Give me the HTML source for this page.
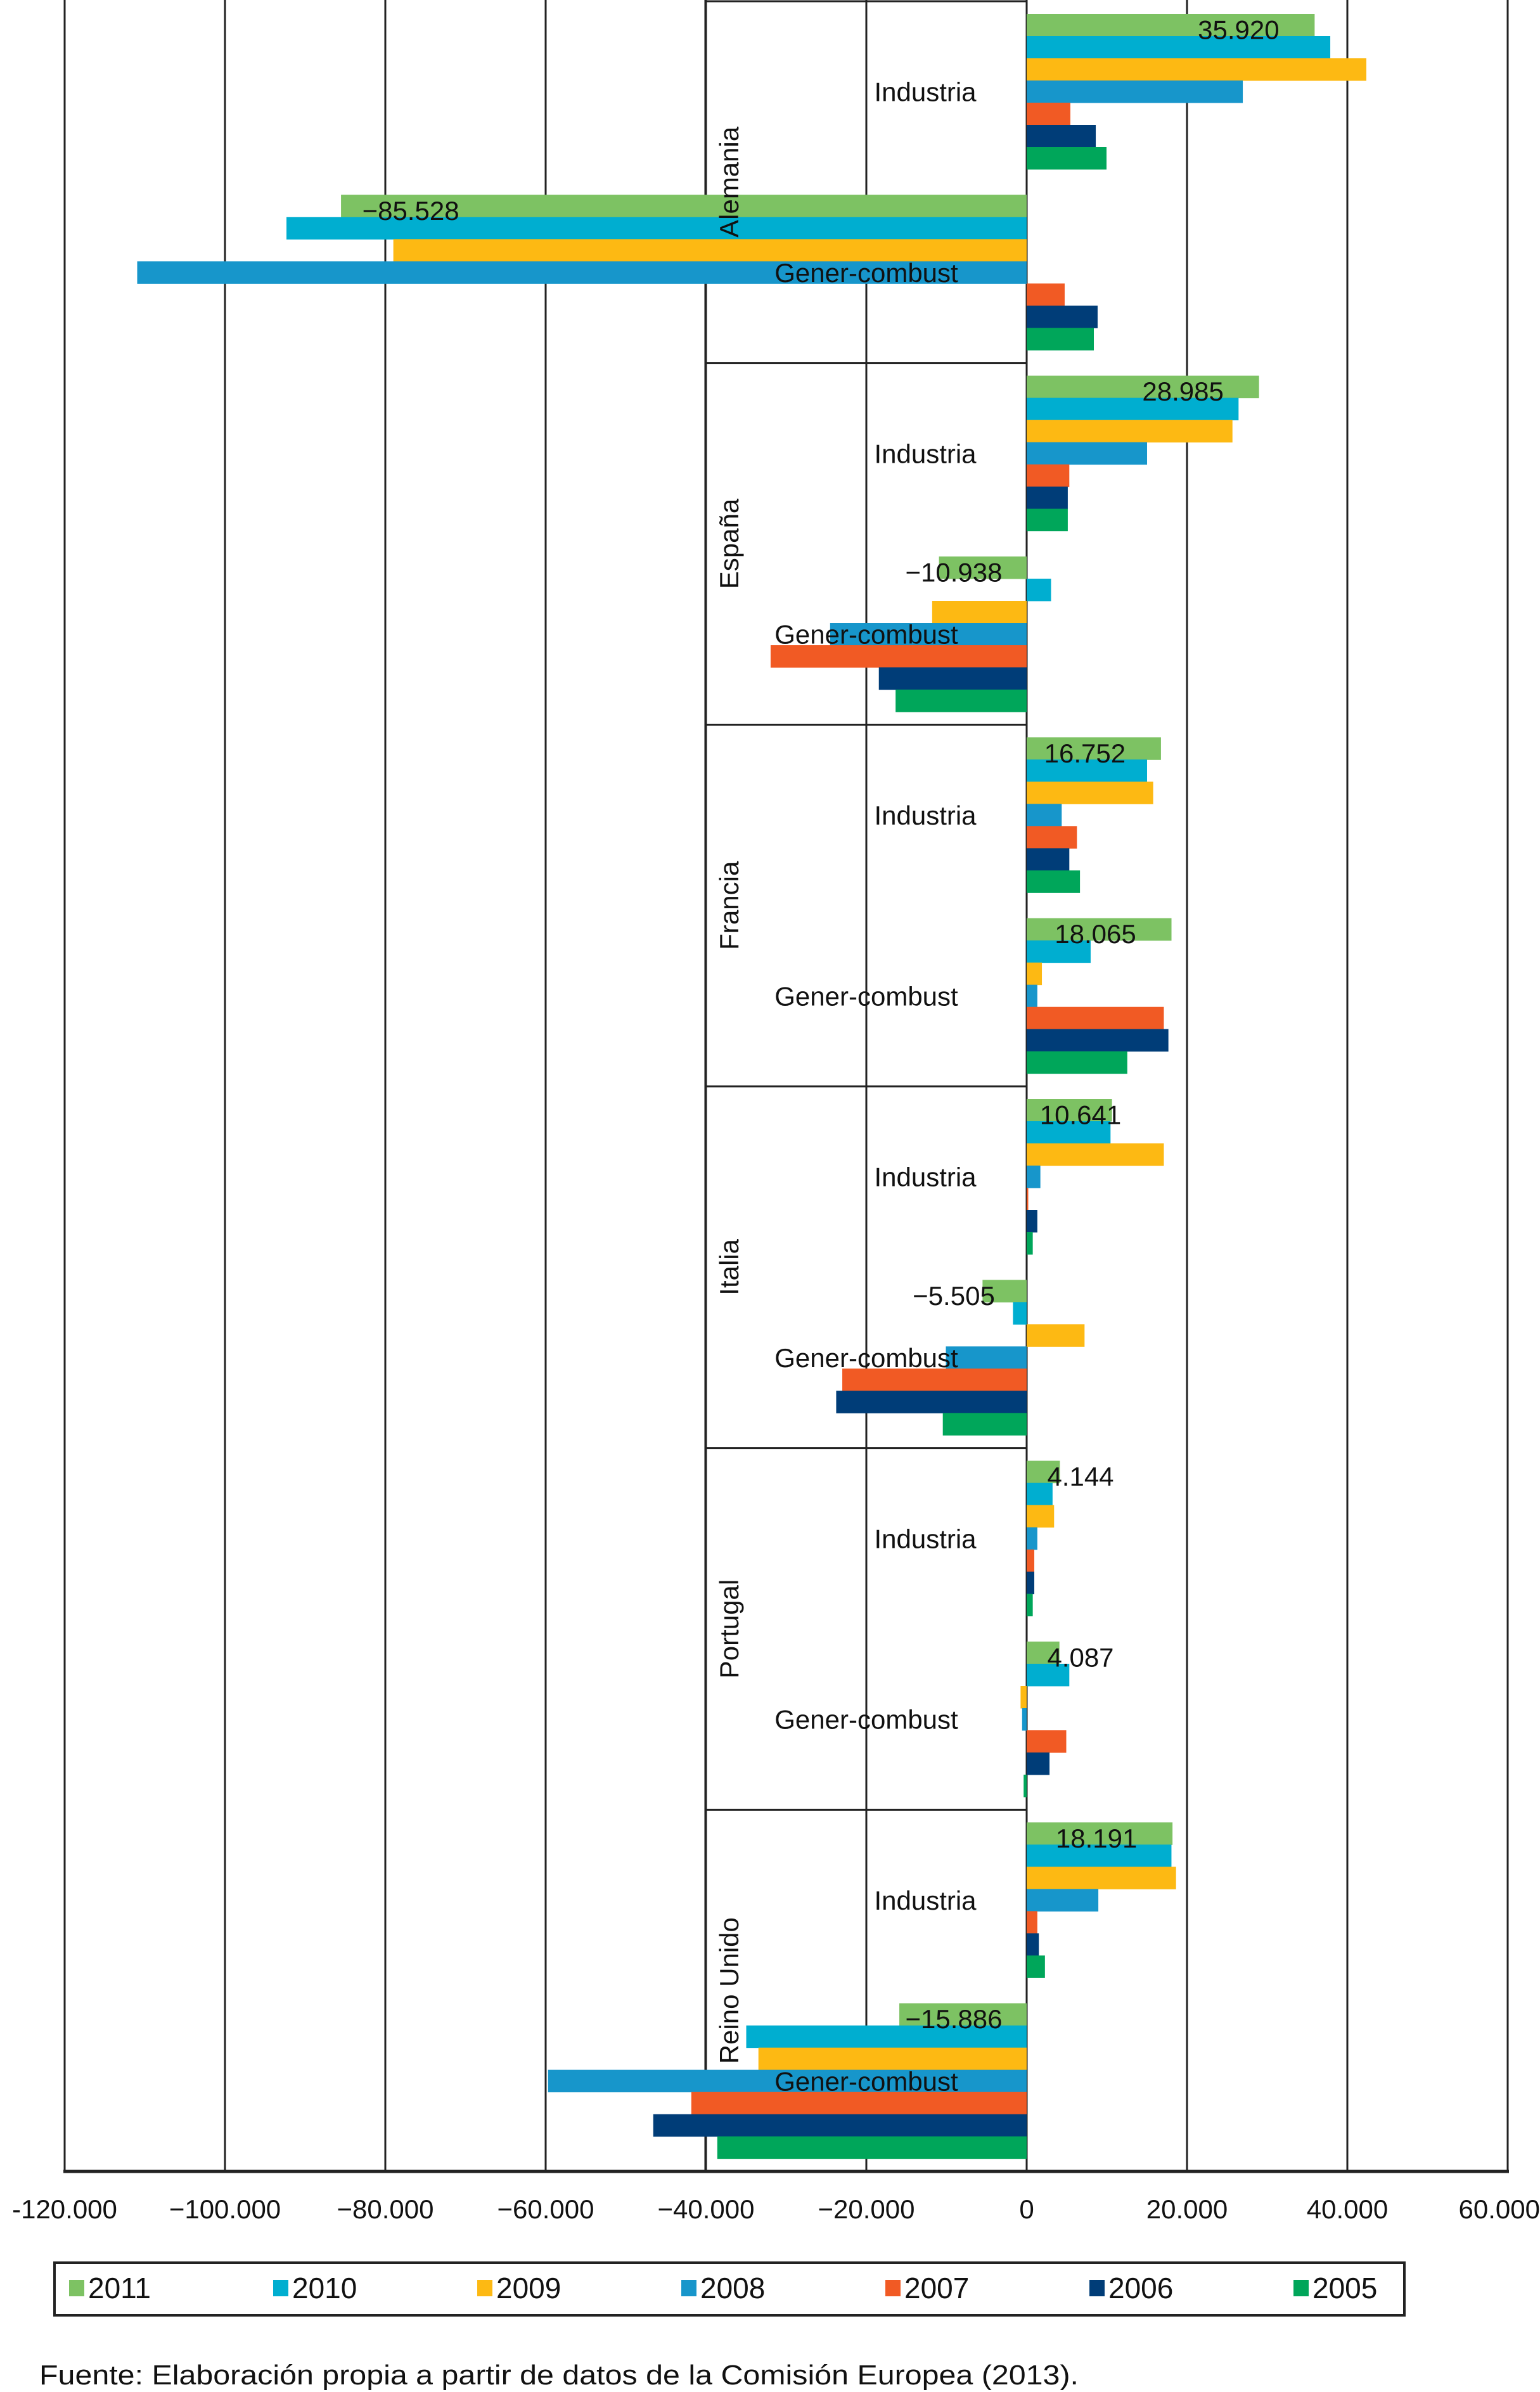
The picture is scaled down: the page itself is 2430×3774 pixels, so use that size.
<!DOCTYPE html>
<html><head><meta charset="utf-8"><style>
html,body{margin:0;padding:0;background:#fff;}
svg{display:block;font-family:"Liberation Sans",sans-serif;}
</style></head><body>
<svg id="chart" width="2430" height="3774" viewBox="0 0 2430 3774" xmlns="http://www.w3.org/2000/svg">
<g id="grid"></g>
<g id="table"></g>
<g id="bars"></g>
<g id="labels"></g>
<g id="vals"></g>
<g id="ticks"></g>
<g id="legend"></g>
<text x="62" y="3762" font-size="44" textLength="1640" lengthAdjust="spacingAndGlyphs" fill="#111">Fuente: Elaboración propia a partir de datos de la Comisión Europea (2013).</text>
</svg>
<script>
const countries = ["Alemania","España","Francia","Italia","Portugal","Reino Unido"];
const subcats = ["Industria","Gener-combust"];
const years = ["2011","2010","2009","2008","2007","2006","2005"];
const colors = ["#7dc263","#00aed0","#fdb913","#1796cb","#f15a24","#003d78","#00a65a"];
const tickValues = [-120000,-100000,-80000,-60000,-40000,-20000,0,20000,40000,60000];
const tickLabels = ["-120.000","\u2212100.000","\u221280.000","\u221260.000","\u221240.000","\u221220.000","0","20.000","40.000","60.000"];
// values [country][subcat][year 2011..2005]
const alemania = [[35920,37870,42370,26960,5450,8620,9960],[-85528,-92330,-79000,-110950,4740,8850,8380]];
const espana = [[28985,26430,25670,15020,5320,5130,5130],[-10938,3040,-11790,-24520,-31940,-18440,-16350]];
const francia = [[16752,15020,15780,4370,6270,5320,6650],[18065,7980,1900,1330,17110,17680,12550]];
const italia = [[10641,10460,17110,1710,200,1330,760],[-5505,-1710,7220,-10080,-23000,-23760,-10460]];
const portugal = [[4144,3230,3420,1330,950,950,760],[4087,5320,-760,-570,4940,2850,-380]];
const reinoUnido = [[18191,18060,18630,8940,1330,1520,2280],[-15886,-34980,-33460,-59700,-41830,-46580,-38590]];
const values = [alemania,espana,francia,italia,portugal,reinoUnido];
const valueLabels = [["35.920","\u221285.528"],["28.985","\u221210.938"],["16.752","18.065"],["10.641","\u22125.505"],["4.144","4.087"],["18.191","\u221215.886"]];

const NS="http://www.w3.org/2000/svg";
const X0=1620, PX=253/20000, TOP=2, BOT=3426;
const x=v=>X0+v*PX;
const countryH=(BOT-TOP)/countries.length, subH=countryH/2;
function mk(tag,attrs,parent){const e=document.createElementNS(NS,tag);for(const k in attrs)e.setAttribute(k,attrs[k]);parent.appendChild(e);return e;}
const grid=document.getElementById('grid'),table=document.getElementById('table'),bars=document.getElementById('bars'),labels=document.getElementById('labels'),vals=document.getElementById('vals'),ticks=document.getElementById('ticks'),legend=document.getElementById('legend');

tickValues.forEach((t,i)=>{
  const l=mk('line',{x1:x(t),x2:x(t),y1:0,y2:BOT,stroke:'#222','stroke-width':3},grid);
  
  
  const last=i===tickValues.length-1;
  const tx=mk('text',{x:last?2430:x(t),y:3500,'font-size':42,'text-anchor':last?'end':'middle',fill:'#111'},ticks);
  tx.textContent=tickLabels[i];
  
  
});
const ax=mk('line',{x1:x(-120000)-2,x2:x(60000)+2,y1:BOT,y2:BOT,stroke:'#222','stroke-width':5},grid);



const TL=1113;
for(let c=0;c<=countries.length;c++){
  const y=TOP+c*countryH;
  const l=mk('line',{x1:TL,x2:X0,y1:y,y2:y,stroke:'#222','stroke-width':3},table);
  
  
}
const tl=mk('line',{x1:TL,x2:TL,y1:0,y2:BOT,stroke:'#222','stroke-width':3},table);



const BH=35, BOFF=20;
countries.forEach((cn,c)=>{
  subcats.forEach((sc,s)=>{
    const y0=TOP+c*countryH+s*subH;
    values[c][s].forEach((v,k)=>{
      const xa=x(Math.min(0,v)), xb=x(Math.max(0,v));
      const r=mk('rect',{x:xa,y:y0+BOFF+k*BH,width:Math.max(xb-xa,1),height:BH+0.5,fill:colors[k]},bars);
      
      
    });
    const sx = s===0?1460:1367;
    const st=mk('text',{x:sx,y:y0+subH/2+15,'font-size':42,'text-anchor':'middle',fill:'#111'},labels);
    st.textContent=sc;
    
    
    const v=values[c][s][0];
    const end=x(v);
    const cx = v>=0 ? Math.max(end-120,1705) : Math.min(end+110,1505);
    const vt=mk('text',{x:cx,y:y0+BOFF+BH/2+22,'font-size':42,'text-anchor':'middle',fill:'#111'},vals);
    vt.textContent=valueLabels[c][s];
    
    
  });
  const cy=TOP+c*countryH+countryH/2;
  const ct=mk('text',{x:0,y:0,'font-size':42,'text-anchor':'middle',fill:'#111',transform:`translate(1165,${cy}) rotate(-90)`},labels);
  ct.textContent=cn;
  
  
});

const lb=mk('rect',{x:86,y:3570,width:2130,height:83,fill:'none',stroke:'#222','stroke-width':4},legend);


years.forEach((yr,k)=>{
  const lx=109+k*322;
  const sw=mk('rect',{x:lx,y:3597,width:24,height:26,fill:colors[k]},legend);
  
  
  const t=mk('text',{x:lx+30,y:3626,'font-size':46,fill:'#111'},legend);
  t.textContent=yr;
  
  
});
</script>
</body></html>
